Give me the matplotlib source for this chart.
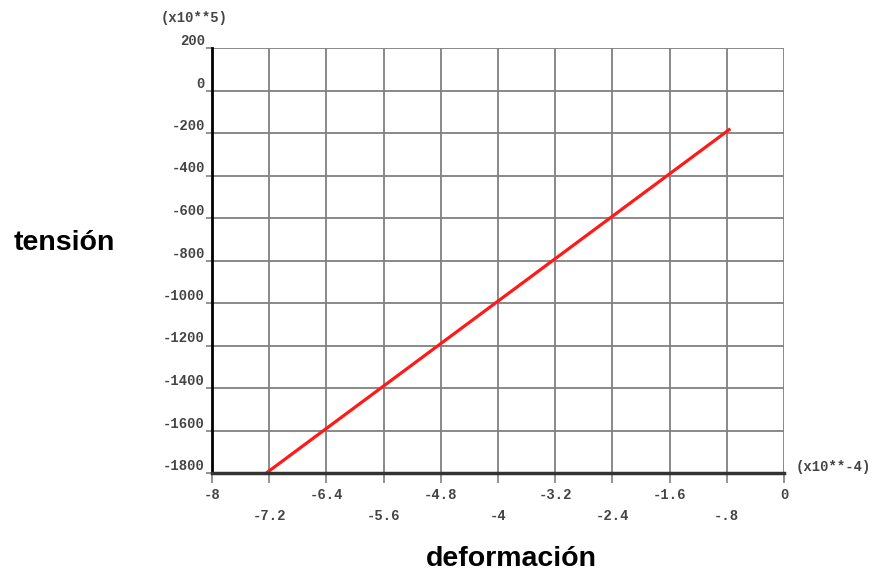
import matplotlib
matplotlib.use("Agg")
import matplotlib.pyplot as plt
import numpy as np

# data (strain x1e-4, stress x1e5)
strain = [-7.24, -0.75]
stress = [-1800, -180]

x_major = [-8, -6.4, -4.8, -3.2, -1.6, 0]
x_major_labels = ["-8", "-6.4", "-4.8", "-3.2", "-1.6", "0"]
x_minor = [-7.2, -5.6, -4, -2.4, -0.8]
x_minor_labels = ["-7.2", "-5.6", "-4", "-2.4", "-.8"]
y_ticks = [-1800, -1600, -1400, -1200, -1000, -800, -600, -400, -200, 0, 200]
y_labels = ["-1800", "-1600", "-1400", "-1200", "-1000", "-800", "-600", "-400", "-200", "0", "200"]

W, H = 881, 571
fig = plt.figure(figsize=(W / 100, H / 100), dpi=100)
ax = fig.add_axes([212 / W, 1 - 473 / H, 572 / W, 425 / H])

ax.plot(strain, stress, color="#ff1a1a", lw=2.3, solid_capstyle="butt", zorder=5)

ax.set_xlim(-8, 0)
ax.set_ylim(-1800, 200)

grid_c = "#808080"
mono = "Liberation Mono"
lab_c = "#444444"
fs = 10

ax.set_xticks(x_major)
ax.set_xticklabels(x_major_labels, fontsize=fs, family=mono, color=lab_c, weight="bold")
ax.set_xticks(x_minor, minor=True)
ax.set_xticklabels(x_minor_labels, minor=True, fontsize=fs, family=mono, color=lab_c, weight="bold")
ax.tick_params(axis="x", which="major", length=7, width=1.2, color=grid_c, pad=4)
ax.tick_params(axis="x", which="minor", length=7, width=1.2, color=grid_c, pad=19)

ax.set_yticks(y_ticks)
ax.set_yticklabels(y_labels, fontsize=fs, family=mono, color=lab_c, weight="bold")
ax.tick_params(axis="y", length=4, width=1.2, color=grid_c, pad=1)
for t in ax.get_yticklabels():
    t.set_verticalalignment("bottom")

ax.grid(True, which="both", axis="x", color=grid_c, lw=1.3)
ax.grid(True, which="major", axis="y", color=grid_c, lw=1.3)
ax.set_axisbelow(True)

for s in ["top", "right"]:
    ax.spines[s].set_visible(False)
ax.spines["left"].set_color("black")
ax.spines["left"].set_linewidth(2)
ax.spines["bottom"].set_color("#333333")
ax.spines["bottom"].set_linewidth(2.5)
ax.spines["left"].set_zorder(6)
ax.spines["bottom"].set_zorder(6)

fig.text(161 / W, 1 - 18 / H, "(x10**5)", fontsize=fs, family=mono, color=lab_c,
         weight="bold", ha="left", va="center")
fig.text(796 / W, 1 - 467 / H, "(x10**-4)", fontsize=fs, family=mono, color=lab_c,
         weight="bold", ha="left", va="center")

fig.text(64 / W, 1 - 243 / H, "tensión", fontsize=20.5, family="Liberation Sans",
         weight="bold", ha="center", va="center")
fig.text(511 / W, 1 - 566 / H, "deformación", fontsize=20.5, family="Liberation Sans",
         weight="bold", ha="center", va="baseline")

fig.savefig("out.png", dpi=100)
